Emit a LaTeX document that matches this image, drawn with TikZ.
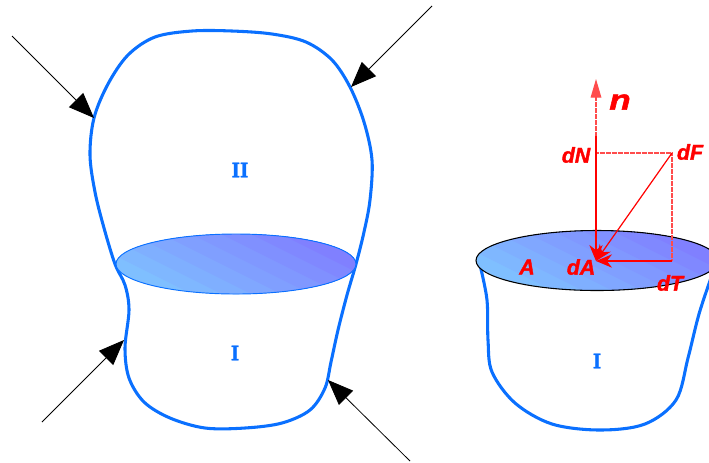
\documentclass[tikz,border=0pt]{standalone}
\usepackage{fontspec}
\setmainfont{DejaVu Serif}
\newfontfamily\rfont[FakeBold=1.6]{Liberation Sans Bold Italic}
\newfontfamily\nfont[FakeBold=2,FakeStretch=1.25]{Liberation Sans Bold Italic}
\newfontfamily\bfontb[FakeStretch=0.9,FakeBold=1.2]{DejaVu Serif Bold}
\usetikzlibrary{arrows.meta}
\definecolor{outl}{HTML}{0A70FF}
\definecolor{shA}{HTML}{7FBFFF}
\definecolor{shB}{HTML}{8080FF}
\newcommand{\discbands}[2]{%
  \foreach \i in {0,...,8}{%
    \pgfmathsetmacro{\pp}{100*\i/8}%
    \pgfmathsetmacro{\aa}{-134+\i*29.8}%
    \colorlet{bandc}{shB!\pp!shA}%
    \fill[bandc] ({#1+\aa-200},{#2-100}) -- ({#1+\aa+200},{#2+100}) -- ({#1+700},{#2+100}) -- ({#1+700},{#2-100}) -- cycle;
  }%
}
\tikzset{
  x=0.75pt,y=-0.75pt,
  body/.style={draw=outl,line width=2.3pt,line join=round},
  force/.style={draw=black,line width=0.6pt,-{Triangle[length=19pt,width=15pt]}},
  redarrow/.style={color=red,line width=0.9pt,-{Stealth[length=12pt,width=10pt]}},
  reddot/.style={color=red!70,line width=0.9pt,dash pattern=on 0.6pt off 0.3pt},
  rlabel/.style={text=red,font=\rfont\fontsize{16}{18}\selectfont,inner sep=0pt},
  blabel/.style={text=outl,font=\bfontb\fontsize{15}{19}\selectfont,inner sep=0pt},
}
\begin{document}
\begin{tikzpicture}
\useasboundingbox (0,0) rectangle (709,462);
\clip (0,0) rectangle (709,462);
% left body
\draw[body] plot[smooth cycle,tension=0.55] coordinates {(115,264)(104,228)(95,192)(90,155)(94,118)(108,84)(128,55)(155,37)(192,31)(232,31)(272,34)(306,42)(332,60)(350,87)(364,122)(372,160)(370,200)(364,232)(356,264)(347,295)(338,330)(331,362)(325,388)(310,410)(282,423)(245,428)(205,428)(170,418)(144,402)(129,378)(125,348)(129,310)(125,285)};
% left disc
\begin{scope}
\clip (236,264) ellipse [x radius=120,y radius=30];
\discbands{236}{264}
\end{scope}
\draw[outl,line width=0.7pt] (236,264) ellipse [x radius=120,y radius=30];
% right body
\draw[body] plot[smooth,tension=0.55] coordinates {(480,265)(487,300)(488,340)(492,372)(515,403)(552,424)(600,430)(645,424)(676,400)(688,358)(699,314)(712,275)};
% right disc
\begin{scope}
\clip (597,260.5) ellipse [x radius=121,y radius=30];
\discbands{597}{260.5}
\end{scope}
\draw[black,line width=0.8pt] (597,260.5) ellipse [x radius=121,y radius=30];
% forces
\coordinate (f1s) at (12,36); \coordinate (f1e) at (94,118);
\coordinate (f2s) at (432,6); \coordinate (f2e) at (351,87);
\coordinate (f3s) at (42,422); \coordinate (f3e) at (124,340);
\coordinate (f4s) at (410,461); \coordinate (f4e) at (328,380);
\draw[force] (f1s) -- (f1e);
\draw[force] (f2s) -- (f2e);
\draw[force] (f3s) -- (f3e);
\draw[force] (f4s) -- (f4e);
% labels
\node[blabel] (ii) at (240,170) {II};
\node[blabel] (i1) at (235,353) {I};
\node[blabel] (i2) at (597,361) {I};
\node[rlabel,font=\nfont\fontsize{21}{22}\selectfont] (n) at (620,102) {n};
\node[rlabel] (dN) at (576,155) {dN};
\node[rlabel] (dF) at (690,152) {dF};
\node[rlabel] (dA) at (581,267) {dA};
\node[rlabel] (A) at (527,267) {A};
\node[rlabel] (dT) at (670,283) {dT};
% vectors
\coordinate (O) at (596,261);
\coordinate (Ntip) at (596,79);
\coordinate (Nf) at (596,136);
\coordinate (F) at (672,153);
\coordinate (G) at (596,153);
\coordinate (T) at (672,261);
\draw[reddot] (G) -- (F);
\draw[reddot] (F) -- (T);
\draw[reddot,-{Triangle[length=14pt,width=8pt]}] (Nf) -- (Ntip);
\draw[redarrow] (Nf) -- (O);
\draw[redarrow] (F) -- (O);
\draw[redarrow] (T) -- (O);
\end{tikzpicture}
\end{document}
